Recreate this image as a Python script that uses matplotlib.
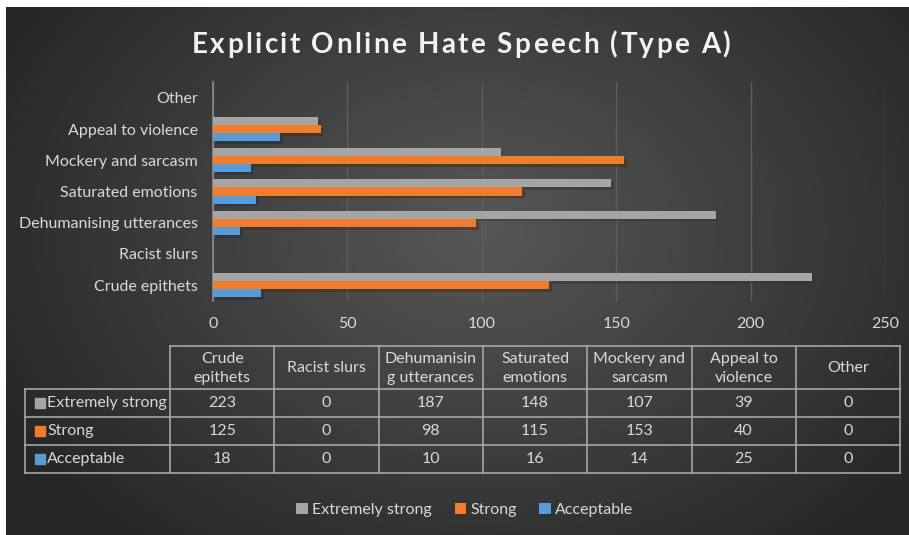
import numpy as np
import matplotlib.pyplot as plt
import matplotlib.patheffects as pe

plt.rcParams['font.family'] = ['Lato', 'DejaVu Sans']

categories = ['Crude epithets', 'Racist slurs', 'Dehumanising utterances',
              'Saturated emotions', 'Mockery and sarcasm', 'Appeal to violence', 'Other']
header_labels = ['Crude\nepithets', 'Racist slurs', 'Dehumanisin\ng utterances',
                 'Saturated\nemotions', 'Mockery and\nsarcasm', 'Appeal to\nviolence', 'Other']
series_names = ['Extremely strong', 'Strong', 'Acceptable']
extremely_strong = [223, 0, 187, 148, 107, 39, 0]
strong = [125, 0, 98, 115, 153, 40, 0]
acceptable = [18, 0, 10, 16, 14, 25, 0]
x_ticks = [0, 50, 100, 150, 200, 250]
title = 'Explicit Online Hate Speech (Type A)'

colors = ['#A5A5A5', '#F07C2E', '#5B9BD5']
txt = '#D9D9D9'
W, H = 909, 535

fig = plt.figure(figsize=(W / 100, H / 100), dpi=100)

# background: white page with dark radial gradient panel
bg = fig.add_axes([0, 0, 1, 1], zorder=-1)
bg.set_xlim(0, W)
bg.set_ylim(H, 0)
bg.axis('off')
yy, xx = np.mgrid[7:H, 6:W]
r = np.sqrt(((xx - 480) / 560.0) ** 2 + ((yy - 230) / 420.0) ** 2)
r = np.clip(r, 0, 1)
c0 = np.array([0x57, 0x57, 0x57]) / 255
c1 = np.array([0x24, 0x25, 0x25]) / 255
img = c0[None, None, :] * (1 - r[..., None]) + c1[None, None, :] * r[..., None]
bg.imshow(img, extent=(6, W, H, 7), aspect='auto', interpolation='bilinear')

# title with letter spacing (placed char by char)
renderer = fig.canvas.get_renderer()
tprops = dict(fontsize=20, fontweight='bold', color='#F2F2F2', va='center', ha='left')


def text_w(s):
    t = bg.text(0, 0, s, **tprops)
    w = t.get_window_extent(renderer).width
    t.remove()
    return w


spacing = 2.4
total = text_w(title) + spacing * (len(title) - 1)
x0 = 461 - total / 2
for k, ch in enumerate(title):
    if ch == ' ':
        continue
    xk = x0 + text_w(title[:k + 1]) - text_w(ch) + spacing * k
    bg.text(xk, 45, ch, **tprops)

# bar chart
ax = fig.add_axes([213 / W, 1 - 300.6 / H, 672 / W, 218.2 / H])
ax.set_facecolor('none')
y = np.arange(len(categories))
h = 0.26
shadow = [pe.SimplePatchShadow(offset=(2, -2), alpha=0.45), pe.Normal()]
bars = []
for vals, off, col, name in zip([extremely_strong, strong, acceptable], [h, 0, -h], colors, series_names):
    b = ax.barh(y + off, vals, height=h, color=col, label=name, zorder=3)
    for p in b:
        p.set_path_effects(shadow)
    bars.append(b)

ax.set_xlim(0, 250)
ax.set_ylim(-0.5, len(categories) - 0.5)
ax.set_xticks(x_ticks)
ax.set_xticklabels([str(t) for t in x_ticks])
ax.set_yticks(y)
ax.set_yticklabels(categories)
ax.tick_params(axis='both', length=0, colors=txt, labelsize=11.5)
ax.tick_params(axis='x', pad=12)
ax.tick_params(axis='y', pad=11)
ax.grid(axis='x', color='#5E5E5E', linewidth=1, zorder=0)
for s in ['top', 'right', 'bottom']:
    ax.spines[s].set_visible(False)
ax.spines['left'].set_color('#8C8C8C')
ax.spines['left'].set_linewidth(1.2)

# data table drawn in pixel coordinates
tb = fig.add_axes([0, 0, 1, 1], zorder=2)
tb.set_xlim(0, W)
tb.set_ylim(H, 0)
tb.axis('off')
lc = '#A6A6A6'
col_x = [170 + 104.3 * i for i in range(len(categories) + 1)]
row_y = [346, 389, 417, 445, 473]
left = 25
tb.plot([col_x[0], col_x[-1]], [row_y[0]] * 2, color=lc, lw=1.2)
for yv in row_y[1:]:
    tb.plot([left, col_x[-1]], [yv] * 2, color=lc, lw=1.2)
tb.plot([left, left], [row_y[1], row_y[-1]], color=lc, lw=1.2)
for xv in col_x:
    tb.plot([xv, xv], [row_y[0], row_y[-1]], color=lc, lw=1.2)

for j, lab in enumerate(header_labels):
    tb.text((col_x[j] + col_x[j + 1]) / 2, (row_y[0] + row_y[1]) / 2 + 1, lab, color=txt,
            fontsize=11.5, ha='center', va='center', linespacing=1.4)
for i, (name, vals, col) in enumerate(zip(series_names, [extremely_strong, strong, acceptable], colors)):
    yc = (row_y[i + 1] + row_y[i + 2]) / 2
    tb.add_patch(plt.Rectangle((35, yc - 5), 10, 10, color=col))
    tb.text(47, yc, name, color=txt, fontsize=11.5, ha='left', va='center')
    for j, v in enumerate(vals):
        tb.text((col_x[j] + col_x[j + 1]) / 2, yc, str(v), color=txt, fontsize=11.5,
                ha='center', va='center')

# legend
fig.legend(handles=bars, labels=series_names, loc='center', bbox_to_anchor=(465 / W, 1 - 510 / H),
           ncol=3, frameon=False, fontsize=11.5, labelcolor=txt, handlelength=0.7,
           handleheight=0.7, handletextpad=0.3, columnspacing=1.4)

fig.savefig('out.png', dpi=100)
